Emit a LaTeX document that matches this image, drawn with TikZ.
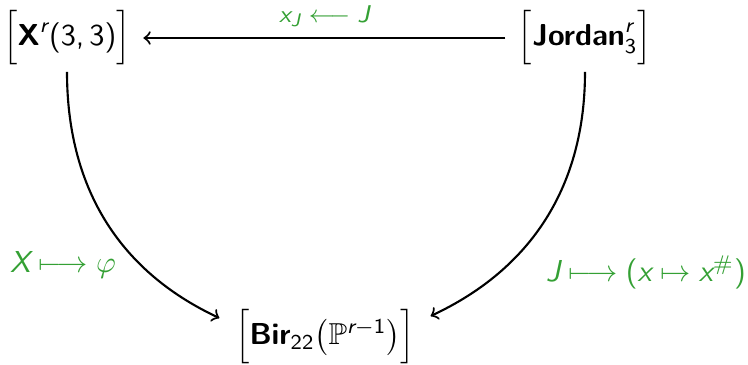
\documentclass[tikz,border=0pt]{standalone}
\usepackage{amsmath}
\usepackage{amssymb}
\usepackage{xcolor}
\renewcommand{\familydefault}{\sfdefault}
\definecolor{mapgreen}{RGB}{52,160,52}
% sans letters inside math
\newcommand{\sfit}[1]{\text{\sffamily\itshape #1}}
\newcommand{\sfbf}[1]{\text{\sffamily\bfseries #1}}
\newcommand{\sfup}[1]{\text{\sffamily #1}}

\begin{document}
\begin{tikzpicture}[x=0.33pt, y=-0.33pt, space/.style={inner xsep=4pt, inner ysep=2pt}, map/.style={->, line width=0.7pt}]
    % Fix the page to the size of the picture (pixel units, y downwards)
    \useasboundingbox (0,0) rectangle (748,365);

    % The three spaces
    \node[space] (X) at (67,38) {$\Big[\sfbf{X}^{\sfit{r}}\sfup{(3,\,3)}\Big]$};
    \node[space] (J) at (585,38) {$\Big[\sfbf{Jordan}^{\sfit{r}}_{\sfup{3}}\Big]$};
    \node[space] (B) at (325,337) {$\Big[\sfbf{Bir}_{\sfup{22}}\big(\mathbb{P}^{\sfit{r}-\sfup{1}}\big)\Big]$};

    % Top map
    \draw[map] (J) -- node[above, mapgreen, font=\footnotesize] {$\sfit{x}_{\sfit{J}} \longleftarrow \sfit{J}$} (X);

    % The two curved maps down to Bir
    \draw[map] (X.south) to[out=-90, in=155] ([shift={(-3,15)}]B.north west);
    \draw[map] (J.south) to[out=-90, in=25] ([shift={(3,13)}]B.north east);

    % Labels of the curved maps
    \node[mapgreen] (lX) at (63,265) {$\sfit{X} \longmapsto \varphi$};
    \node[mapgreen] (lJ) at (646,272) {$\sfit{J} \longmapsto \sfup{(}\sfit{x} \mapsto \sfit{x}^{\#}\sfup{)}$};
\end{tikzpicture}
\end{document}
